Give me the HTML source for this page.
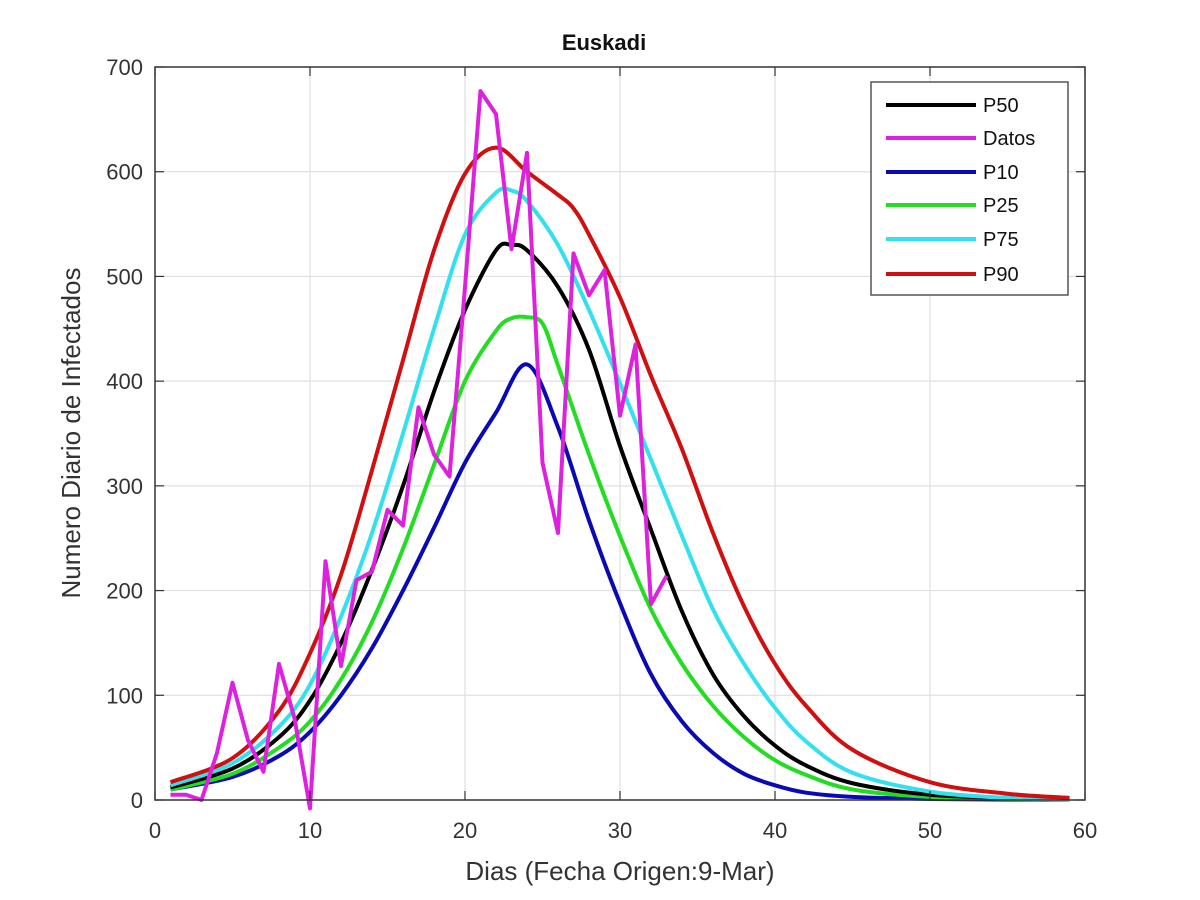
<!DOCTYPE html>
<html><head><meta charset="utf-8"><style>
body{margin:0;background:#fff;}
svg{display:block;font-family:"Liberation Sans",sans-serif;}
</style></head><body>
<svg id="chart" width="1200" height="900">
<g id="grid"></g>
<g id="series"></g>
<rect x="155" y="67" width="930" height="733" fill="none" stroke="#333" stroke-width="1.5"/>
<g id="ticks"></g>
<text x="604" y="50" text-anchor="middle" font-size="22" font-weight="bold" fill="#111">Euskadi</text>
<text x="620" y="880" text-anchor="middle" font-size="26" fill="#333">Dias (Fecha Origen:9-Mar)</text>
<text transform="translate(80,433) rotate(-90)" text-anchor="middle" font-size="26" fill="#333">Numero Diario de Infectados</text>
<g id="legend">
<rect x="871" y="82" width="197" height="213" fill="#fff" stroke="#555" stroke-width="1.5"/>
</g>
</svg>
<script>
const datosDays=[1,2,3,4,5,6,7,8,9,10,11,12,13,14,15,16,17,18,19,20,21,22,23,24,25,26,27,28,29,30,31,32,33];
const datosVals=[5,5,0,45,112,57,27,130,78,-8,228,128,210,218,277,262,375,330,309,490,677,655,526,618,322,255,522,482,506,367,435,187,214];
const p50Days=[1,5,8,10,12,14,16,18,20,22,23,24,26,28,30,32,34,36,38,40,42,45,50,55,59];
const p50Vals=[12,30,60,95,150,220,300,390,468,525,530,525,490,430,338,258,180,120,80,52,33,16,5,2,0];
const p10Days=[1,5,8,10,12,14,16,18,20,22,24,26,28,30,32,34,36,38,40,42,45,50,59];
const p10Vals=[10,22,42,65,100,145,200,260,322,370,416,356,267,188,120,75,45,25,14,7,3,1,0];
const p25Days=[1,5,8,10,12,14,16,18,20,22,23,24,25,26,28,30,32,34,36,38,40,42,45,50,59];
const p25Vals=[10,25,50,75,115,170,240,320,400,448,460,461,455,415,330,252,182,130,90,60,38,24,10,3,0];
const p75Days=[1,5,8,10,12,14,16,18,20,22,23,24,26,28,30,32,34,36,38,40,42,45,50,55,59];
const p75Vals=[14,35,70,110,175,255,350,450,540,580,582,572,530,468,398,325,252,182,130,88,56,26,8,2,0];
const p90Days=[1,5,8,10,12,14,16,18,20,22,24,26,27,28,30,32,34,36,38,40,42,45,50,55,59];
const p90Vals=[17,40,85,140,215,315,420,525,598,623,600,578,565,540,480,405,335,255,185,130,90,48,17,6,2];
const xTicks=[0,10,20,30,40,50,60];
const yTicks=[0,100,200,300,400,500,600,700];
const legendLabels=["P50"," Datos","P10","P25","P75","P90"];

const NS="http://www.w3.org/2000/svg";
const X=v=>155+v*930/60, Y=v=>800-v*733/700;
function mk(t,a,p){const e=document.createElementNS(NS,t);for(const k in a)e.setAttribute(k,a[k]);p.appendChild(e);return e;}
const grid=document.getElementById('grid'),ticks=document.getElementById('ticks'),ser=document.getElementById('series'),leg=document.getElementById('legend');
xTicks.forEach(t=>{
  if(t>0&&t<60){const g=mk('line',{x1:X(t),x2:X(t),y1:67,y2:800,stroke:'#e0e0e0','stroke-width':1.2},grid);
  
  }
  const l=mk('line',{x1:X(t),x2:X(t),y1:800,y2:791,stroke:'#333','stroke-width':1.2},ticks);
  
  
  const l2=mk('line',{x1:X(t),x2:X(t),y1:67,y2:76,stroke:'#333','stroke-width':1.2},ticks);
  
  
  const tx=mk('text',{x:X(t),y:838,'text-anchor':'middle','font-size':22,fill:'#333'},ticks);tx.textContent=t;
  
  
});
yTicks.forEach(t=>{
  if(t>0&&t<700){const g=mk('line',{x1:155,x2:1085,y1:Y(t),y2:Y(t),stroke:'#e0e0e0','stroke-width':1.2},grid);
  
  }
  const l=mk('line',{x1:155,x2:164,y1:Y(t),y2:Y(t),stroke:'#333','stroke-width':1.2},ticks);
  
  
  const l2=mk('line',{x1:1076,x2:1085,y1:Y(t),y2:Y(t),stroke:'#333','stroke-width':1.2},ticks);
  
  
  const tx=mk('text',{x:143,y:Y(t)+8,'text-anchor':'end','font-size':22,fill:'#333'},ticks);tx.textContent=t;
  
  
});
function smoothPath(days,vals){
  const P=days.map((d,i)=>[X(d),Y(vals[i])]);
  let s='M'+P[0][0]+','+P[0][1];
  for(let i=0;i<P.length-1;i++){
    const p0=P[i-1]||P[i],p1=P[i],p2=P[i+1],p3=P[i+2]||P[i+1];
    const t=6;
    s+=' C'+(p1[0]+(p2[0]-p0[0])/t)+','+(p1[1]+(p2[1]-p0[1])/t)+' '+(p2[0]-(p3[0]-p1[0])/t)+','+(p2[1]-(p3[1]-p1[1])/t)+' '+p2[0]+','+p2[1];
  }
  return s;
}
function curve(days,vals,color,name){
  const p=mk('path',{d:smoothPath(days,vals),fill:'none',stroke:color,'stroke-width':4,'stroke-linejoin':'round'},ser);
  
  
}
function line(days,vals,color,name){
  const p=mk('polyline',{points:days.map((d,i)=>X(d)+','+Y(vals[i])).join(' '),fill:'none',stroke:color,'stroke-width':4,'stroke-linejoin':'round'},ser);
  
  
}
curve(p10Days,p10Vals,'#0a0ab4','line-p10');
curve(p25Days,p25Vals,'#22dd22','line-p25');
curve(p50Days,p50Vals,'#000','line-p50');
curve(p75Days,p75Vals,'#33e0ee','line-p75');
curve(p90Days,p90Vals,'#d01010','line-p90');
line(datosDays,datosVals,'#dd22dd','line-datos');
const legColors=['#000','#dd22dd','#0a0ab4','#22dd22','#33e0ee','#d01010'];
const rows=[105,138,172,205,239,274];
legendLabels.forEach((lab,i)=>{
  const l=mk('line',{x1:886,x2:976,y1:rows[i],y2:rows[i],stroke:legColors[i],'stroke-width':4},leg);
  
  
  const t=mk('text',{x:983,y:rows[i]+7,'font-size':20,fill:'#111','xml:space':'preserve'},leg);
  t.textContent=lab;
  
  
});
</script>
</body></html>
